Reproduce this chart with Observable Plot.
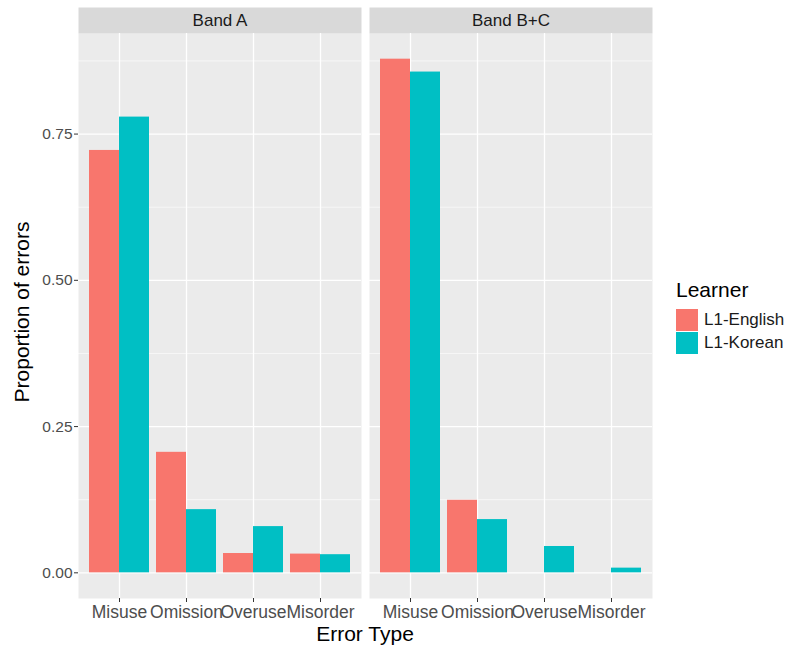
<!DOCTYPE html>
<html>
<head>
<meta charset="utf-8">
<script src="https://cdn.jsdelivr.net/npm/d3@7"></script>
<script src="https://cdn.jsdelivr.net/npm/@observablehq/plot@0.6"></script>
<style>
  html, body { margin: 0; padding: 0; background: #fff; }
  #wrap { position: relative; width: 792px; height: 648px; font-family: "Liberation Sans", Arial, sans-serif; }
  #wrap svg { position: absolute; left: 0; top: 0; }
  .ttl { position: absolute; color: #000; font-size: 21px; white-space: nowrap; }
  #legend { position: absolute; left: 676px; top: 278px; }
  #legend .lt { font-size: 21px; color: #000; margin-bottom: 6px; }
  #legend .row { display: flex; align-items: center; height: 23px; }
  #legend .key { width: 22px; height: 22px; margin-right: 6px; }
  #legend .lab { font-size: 17px; color: #1a1a1a; }
</style>
</head>
<body>
<div id="wrap"></div>
<script>
const bands = ["Band A", "Band B+C"];
const types = ["Misuse", "Omission", "Overuse", "Misorder"];
const learners = ["L1-English", "L1-Korean"];
const colors = ["#F8766D", "#00BFC4"];

const bandA_english = [0.722, 0.206, 0.033, 0.032];
const bandA_korean  = [0.779, 0.108, 0.079, 0.031];
const bandBC_english = [0.878, 0.124, 0.0, 0.0];
const bandBC_korean  = [0.856, 0.091, 0.045, 0.008];

const yTicks = [0, 0.25, 0.5, 0.75];
const yMinor = [0.125, 0.375, 0.625, 0.875];

const series = [
  [bands[0], learners[0], bandA_english],
  [bands[0], learners[1], bandA_korean],
  [bands[1], learners[0], bandBC_english],
  [bands[1], learners[1], bandBC_korean]
];
const data = series.flatMap(([band, learner, vals]) =>
  vals.map((v, i) => ({band, learner, type: types[i], value: v})));

const W = 792, H = 648, mT = 33, mB = 50, mL = 78, mR = 140;
const panelH = H - mT - mB;
const ymax = d3.max(data, d => d.value);

function build(half) {
  return Plot.plot({
    width: W, height: H,
    marginTop: mT, marginBottom: mB, marginLeft: mL, marginRight: mR,
    style: {fontFamily: "'Liberation Sans', Arial, sans-serif", background: "transparent", overflow: "visible"},
    fx: {domain: bands, axis: null, paddingInner: 0.0275, paddingOuter: 0},
    x: {domain: types, paddingInner: 0.1, paddingOuter: 0.15},
    y: {domain: [-0.05 * ymax, 1.05 * ymax]},
    color: {domain: learners, range: colors},
    marks: [
      Plot.frame({fill: "#EBEBEB"}),
      Plot.frame({fill: "#D9D9D9", insetTop: -26, insetBottom: panelH}),
      Plot.text(bands, {fx: d => d, text: d => d, frameAnchor: "top", lineAnchor: "middle", dy: -13, fontSize: 17, fill: "#1A1A1A"}),
      Plot.gridY(yMinor, {stroke: "white", strokeOpacity: 1, strokeWidth: 0.6}),
      Plot.gridY(yTicks, {stroke: "white", strokeOpacity: 1, strokeWidth: 1.3}),
      Plot.gridX({stroke: "white", strokeOpacity: 1, strokeWidth: 1.3}),
      Plot.barY(data.filter(d => d.learner === learners[0]),
        {fx: "band", x: "type", y: "value", fill: "learner", insetRight: half}),
      Plot.barY(data.filter(d => d.learner === learners[1]),
        {fx: "band", x: "type", y: "value", fill: "learner", insetLeft: half}),
      Plot.axisY({ticks: yTicks, tickFormat: d3.format(".2f"), tickSize: 4, tickPadding: 2,
        fontSize: 15.5, fill: "#4D4D4D", stroke: "#333333", label: null}),
      Plot.axisX({tickSize: 4, tickPadding: 3, fontSize: 17.5, fill: "#4D4D4D", stroke: "#333333", label: null})
    ]
  });
}

const probe = build(0);
const bw = probe.scale("x").bandwidth;
const chart = build(bw / 2);
const wrap = document.getElementById("wrap");
wrap.appendChild(chart);

const xt = document.createElement("div");
xt.className = "ttl";
xt.textContent = "Error Type";
xt.style.left = "365px"; xt.style.top = "634px";
xt.style.transform = "translate(-50%, -50%)";
wrap.appendChild(xt);

const yt = document.createElement("div");
yt.className = "ttl";
yt.textContent = "Proportion of errors";
yt.style.left = "22px"; yt.style.top = "312px";
yt.style.transform = "translate(-50%, -50%) rotate(-90deg)";
wrap.appendChild(yt);

const lg = document.createElement("div");
lg.id = "legend";
lg.innerHTML = `<div class="lt">Learner</div>` + learners.map((l, i) =>
  `<div class="row"><div class="key" style="background:${colors[i]}"></div><div class="lab">${l}</div></div>`).join("");
wrap.appendChild(lg);
</script>
</body>
</html>
